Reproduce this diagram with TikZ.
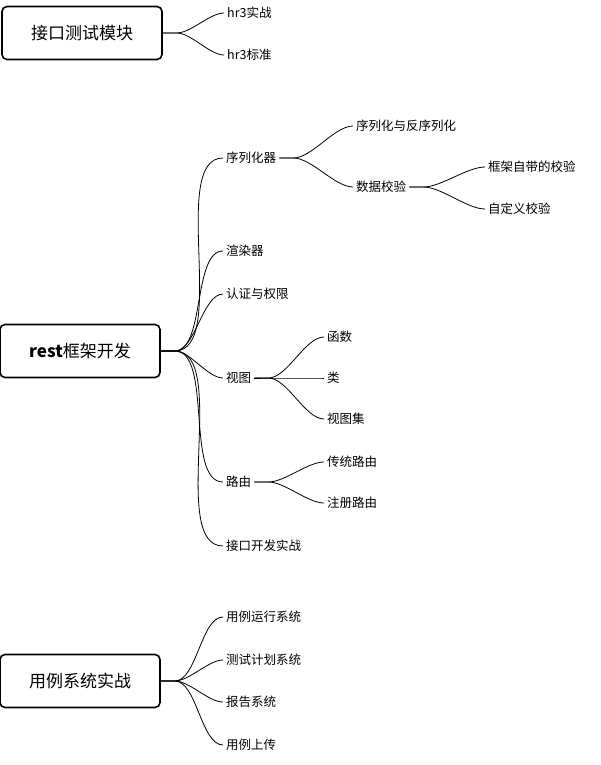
\documentclass[tikz,border=0pt]{standalone}
\usepackage{fontspec}
\setmainfont{Noto Sans CJK SC}
\begin{document}
\begin{tikzpicture}[x=1pt,y=-1pt,
  rootbox/.style={draw,rounded corners=5pt,line width=1.6pt,minimum width=160pt,minimum height=53pt,font=\fontsize{17}{20}\selectfont},
  leaf/.style={anchor=west,inner sep=3pt,font=\fontsize{12.5}{15}\selectfont},
  conn/.style={line width=0.8pt}]
\useasboundingbox (0,0) rectangle (601,765);
\newcommand\link[2]{\draw[conn] (#1.east) -- ++(14,0) to[out=0,in=180,looseness=0.7] (#2.west);}
% roots
\node[rootbox] (r1) at (82,33) {接口测试模块};
\node[rootbox] (r2) at (80,351) {\textbf{rest}框架开发};
\node[rootbox] (r3) at (80,681) {用例系统实战};
% level 1
\node[leaf] (a1) at (224,13) {hr3实战};
\node[leaf] (a2) at (224,55) {hr3标准};
\node[leaf] (b1) at (223,158) {序列化器};
\node[leaf] (b2) at (223,251) {渲染器};
\node[leaf] (b3) at (223,294) {认证与权限};
\node[leaf] (b4) at (223,378) {视图};
\node[leaf] (b5) at (223,482) {路由};
\node[leaf] (b6) at (223,546) {接口开发实战};
\node[leaf] (c1) at (223,617) {用例运行系统};
\node[leaf] (c2) at (223,660) {测试计划系统};
\node[leaf] (c3) at (223,702) {报告系统};
\node[leaf] (c4) at (223,745) {用例上传};
% level 2
\node[leaf] (s1) at (353,126) {序列化与反序列化};
\node[leaf] (s2) at (353,187) {数据校验};
\node[leaf] (v1) at (324,337) {函数};
\node[leaf] (v2) at (324,378) {类};
\node[leaf] (v3) at (324,419) {视图集};
\node[leaf] (l1) at (324,462) {传统路由};
\node[leaf] (l2) at (324,503) {注册路由};
% level 3
\node[leaf] (d1) at (485,167) {框架自带的校验};
\node[leaf] (d2) at (485,209) {自定义校验};
% links
\link{r1}{a1}\link{r1}{a2}
\link{r2}{b1}\link{r2}{b2}\link{r2}{b3}\link{r2}{b4}\link{r2}{b5}\link{r2}{b6}
\link{r3}{c1}\link{r3}{c2}\link{r3}{c3}\link{r3}{c4}
\link{b1}{s1}\link{b1}{s2}
\link{s2}{d1}\link{s2}{d2}
\link{b4}{v1}\link{b4}{v2}\link{b4}{v3}
\link{b5}{l1}\link{b5}{l2}
\end{tikzpicture}
\end{document}
